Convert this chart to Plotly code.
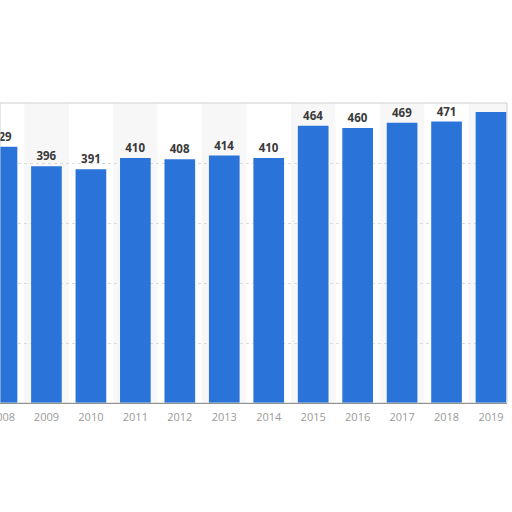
import plotly.graph_objects as go

years = [2008, 2009, 2010, 2011, 2012, 2013, 2014, 2015, 2016, 2017, 2018, 2019]
values = [429, 396, 391, 410, 408, 414, 410, 464, 460, 469, 471, 487]
labels = ["429", "396", "391", "410", "408", "414", "410", "464", "460", "469", "471", ""]

fig = go.Figure()

fig.add_trace(go.Bar(
    x=years, y=values,
    marker=dict(color="#2a74d9", line_width=0),
    text=labels, textposition="outside",
    textfont=dict(family="Open Sans", size=11.5, color="#3a3a3a"),
    texttemplate="<b>%{text}</b>",
    cliponaxis=True,
))

shapes = []
for y in years:
    if y % 2 == 1:
        shapes.append(dict(type="rect", xref="x", yref="paper", x0=y - 0.5, x1=y + 0.5,
                           y0=0, y1=1, fillcolor="#f7f7f7", line_width=0, layer="below"))
shapes.append(dict(type="rect", xref="paper", yref="paper", x0=0, x1=1, y0=0, y1=1,
                   line=dict(color="#cfcfcf", width=1), fillcolor="rgba(0,0,0,0)", layer="above"))

fig.update_layout(
    width=512, height=512,
    margin=dict(l=0, r=5, t=103, b=109, autoexpand=False),
    paper_bgcolor="white", plot_bgcolor="white",
    bargap=0.31,
    showlegend=False,
    xaxis=dict(
        range=[2007.955, 2019.36], tickmode="array", tickvals=years[1:],
        ticktext=[str(y) for y in years[1:]], showgrid=False, zeroline=False,
        showline=True, linecolor="#555", linewidth=1, automargin=False,
        tickfont=dict(family="Open Sans", size=11, color="#9a9a9a"),
        ticks="", ticklabelstandoff=4,
    ),
    yaxis=dict(
        range=[0, 502], showticklabels=False, tickvals=[100, 200, 300, 400],
        showgrid=True, gridcolor="#dcdcdc", griddash="dot", zeroline=False,
        automargin=False,
    ),
    shapes=shapes,
    annotations=[dict(x=years[0], xref="x", y=0, yref="paper", yanchor="top",
                      yshift=-4, text=str(years[0]), showarrow=False,
                      font=dict(family="Open Sans", size=11, color="#9a9a9a"))],
)

fig.write_html("out.html", config={"displayModeBar": False},
               post_script="document.body.style.margin='0';document.body.style.padding='0';")
